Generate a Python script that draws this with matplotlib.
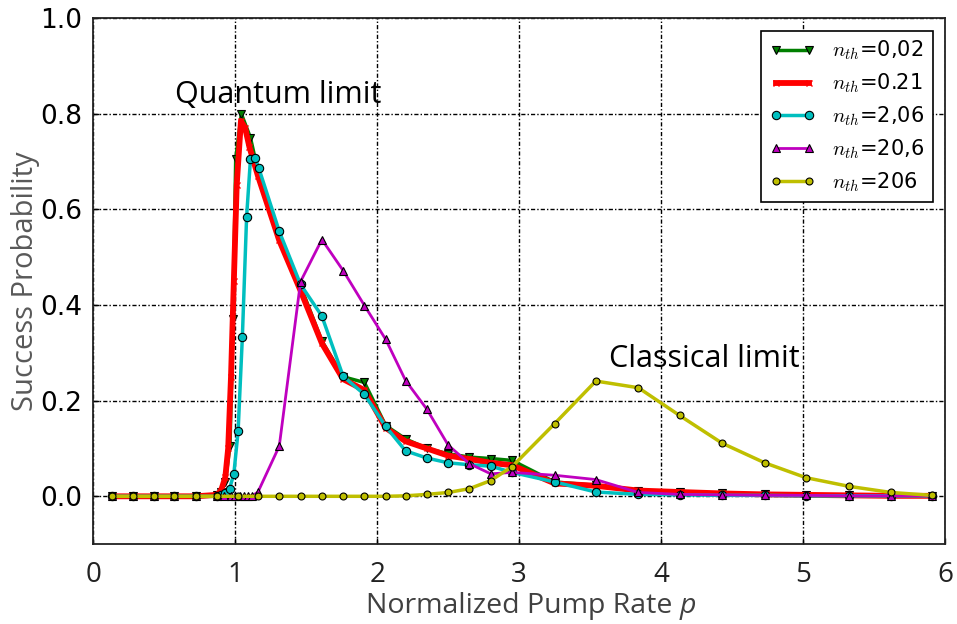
import numpy as np
import matplotlib
matplotlib.use('Agg')
import matplotlib.pyplot as plt

plt.rcParams['mathtext.fontset'] = 'cm'

# ---- data ----
x_far = [0.13, 0.28, 0.43, 0.57, 0.72, 0.87]
x_tail = [1.31, 1.46, 1.61, 1.76, 1.91, 2.06, 2.20, 2.35, 2.50, 2.65, 2.80, 2.95,
          3.25, 3.54, 3.84, 4.13, 4.43, 4.73, 5.02, 5.32, 5.62, 5.91]

x_002 = x_far + [0.90, 0.93, 0.963, 0.984, 1.003, 1.043, 1.107, 1.16] + x_tail
y_002 = [0, 0, 0, 0, 0, 0.002,
         0.01, 0.03, 0.106, 0.371, 0.705, 0.80, 0.75, 0.68,
         0.545, 0.44, 0.325, 0.25, 0.238, 0.148, 0.12, 0.10, 0.089, 0.082, 0.079, 0.075,
         0.03, 0.023, 0.012, 0.009, 0.006, 0.004, 0.003, 0.002, 0.002, 0.001]

x_021 = x_far + [0.90, 0.93, 0.95, 0.97, 0.99, 1.01, 1.04, 1.07, 1.10, 1.13, 1.16] + x_tail
y_021 = [0, 0, 0, 0, 0, 0.003,
         0.012, 0.04, 0.10, 0.25, 0.45, 0.65, 0.785, 0.77, 0.73, 0.70, 0.67,
         0.535, 0.43, 0.32, 0.245, 0.222, 0.143, 0.115, 0.10, 0.085, 0.078, 0.07, 0.065,
         0.027, 0.022, 0.012, 0.009, 0.006, 0.004, 0.003, 0.002, 0.001, 0.001]

x_206 = x_far + [0.90, 0.93, 0.96, 0.99, 1.02, 1.05, 1.08, 1.107, 1.14, 1.166] + x_tail
y_206 = [0, 0, 0, 0, 0, 0,
         0.002, 0.006, 0.016, 0.047, 0.136, 0.333, 0.585, 0.705, 0.708, 0.686,
         0.554, 0.443, 0.377, 0.251, 0.213, 0.146, 0.095, 0.08, 0.07, 0.066, 0.063, 0.05,
         0.03, 0.009, 0.004, 0.003, 0.002, 0.002, 0.001, 0.001, 0.001, 0.001]

x_20_6 = x_far + [0.92, 0.97, 1.0, 1.03, 1.06, 1.09, 1.12, 1.16] + x_tail
y_20_6 = [0, 0, 0, 0, 0, 0,
          0, 0, 0, 0, 0, 0, 0.001, 0.009,
          0.105, 0.449, 0.537, 0.472, 0.399, 0.328, 0.242, 0.182, 0.107, 0.068, 0.047, 0.05,
          0.044, 0.035, 0.008, 0.004, 0.003, 0.002, 0.002, 0.001, 0.001, 0.001]

x_206k = x_far + [1.02, 1.16] + x_tail
y_206k = [0, 0, 0, 0, 0, 0, 0, 0,
          0, 0, 0, 0, 0, 0, 0.001, 0.004, 0.008, 0.016, 0.033, 0.062,
          0.152, 0.241, 0.227, 0.169, 0.111, 0.070, 0.039, 0.021, 0.008, 0.002]

labels = [r'$n_{th}$=0,02', r'$n_{th}$=0.21', r'$n_{th}$=2,06', r'$n_{th}$=20,6', r'$n_{th}$=206']

TXT = 'Open Sans'

fig = plt.figure(figsize=(9.57, 6.24), dpi=100)
ax = fig.add_axes([0.0975, 0.128, 0.89, 0.843])

ax.plot(x_002, y_002, color='#007f00', lw=2.5, marker='v', ms=6, mec='k', mew=0.8, label=labels[0])
ax.plot(x_021, y_021, color='#ff0000', lw=4.2, marker='x', ms=5, mec='#ff0000', mew=1, label=labels[1])
ax.plot(x_206, y_206, color='#00bfbf', lw=2.5, marker='o', ms=6, mec='k', mew=0.8, label=labels[2])
ax.plot(x_20_6, y_20_6, color='#bf00bf', lw=2.0, marker='^', ms=6, mec='k', mew=0.8, label=labels[3])
ax.plot(x_206k, y_206k, color='#bfbf00', lw=2.5, marker='o', ms=5, mec='k', mew=0.8, label=labels[4])

ax.set_xlim(0, 6)
ax.set_ylim(-0.1, 1.0)
ax.set_xticks([0, 1, 2, 3, 4, 5, 6])
ax.set_yticks([0.0, 0.2, 0.4, 0.6, 0.8, 1.0])
ax.set_yticklabels(['0.0', '0.2', '0.4', '0.6', '0.8', '1.0'], fontsize=19, family='DejaVu Sans')
ax.set_xticklabels(['0', '1', '2', '3', '4', '5', '6'], fontsize=20, family=TXT, color='#222222')
ax.tick_params(direction='in', length=4, width=1)
ax.tick_params(axis='y', pad=8)
ax.tick_params(axis='x', pad=12)
ax.grid(True, color='k', linestyle=(0, (3, 1.5, 1, 1.5)), linewidth=1.0)
for s in ax.spines.values():
    s.set_linewidth(1.3)
    s.set_color('#222222')

xl = ax.set_xlabel('Normalized Pump Rate', fontsize=20.5, family=TXT, color='#404040', labelpad=2)
ax.annotate('p', xy=(1, 0), xycoords=xl, xytext=(5, 0), textcoords='offset points',
            fontsize=20.5, family=TXT, fontstyle='italic', color='#404040', va='bottom', ha='left')
ax.set_ylabel('Success Probability', fontsize=21, family=TXT, color='#595959', labelpad=0)

ax.text(0.575, 0.84, 'Quantum limit', fontsize=22, family=TXT, va='center', ha='left')
ax.text(3.63, 0.287, 'Classical limit', fontsize=22, family=TXT, va='center', ha='left')

leg = ax.legend(loc='upper right', numpoints=2, fontsize=15, fancybox=False, framealpha=1,
                edgecolor='k', handlelength=2.2, borderaxespad=0.6, labelspacing=0.45)
leg.get_frame().set_linewidth(1.2)

fig.savefig('out.png', dpi=100)
